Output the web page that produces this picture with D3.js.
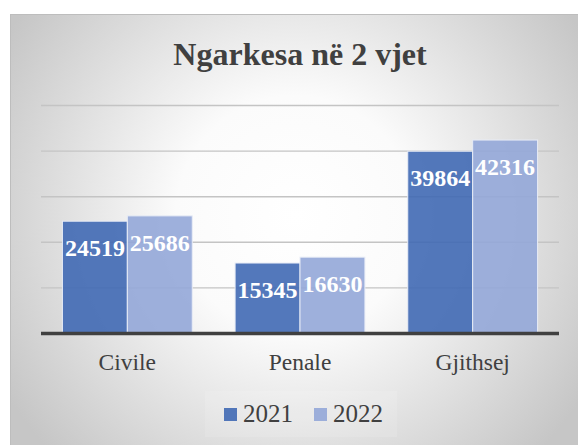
<!DOCTYPE html>
<html>
<head>
<meta charset="utf-8">
<script src="https://cdn.jsdelivr.net/npm/d3@7"></script>
<style>
  body { margin: 0; background: #fff; }
</style>
</head>
<body>
<svg id="content"></svg>
<script>
// chart data
const categories = ["Civile", "Penale", "Gjithsej"];
const years = ["2021", "2022"];
const values2021 = [24519, 15345, 39864];
const values2022 = [25686, 16630, 42316];
const gridTicks = [0, 10000, 20000, 30000, 40000, 50000];
const colors = ["#4069b4", "#94a7d8"];

const FONT = '"Liberation Serif"';
const W = 578, H = 445;
const margin = { top: 105, right: 19, bottom: 112, left: 41 };
const width = W - margin.left - margin.right,
      height = H - margin.top - margin.bottom;

const svg = d3.select("#content").attr("width", W).attr("height", H);

// background with radial gradient
const defs = svg.append("defs");
const grad = defs.append("radialGradient")
    .attr("id", "bg")
    .attr("gradientUnits", "userSpaceOnUse")
    .attr("cx", 295).attr("cy", 215).attr("r", 340);
grad.append("stop").attr("offset", "0%").attr("stop-color", "#ffffff");
grad.append("stop").attr("offset", "35%").attr("stop-color", "#fbfbfb");
grad.append("stop").attr("offset", "100%").attr("stop-color", "#c6c6c6");

svg.append("rect")
    .attr("x", 10.5).attr("y", 14.5)
    .attr("width", W).attr("height", H)
    .attr("fill", "url(#bg)")
    .attr("stroke", "#bdbdbd");

// title
svg.append("text")
    .attr("x", 300).attr("y", 65)
    .attr("text-anchor", "middle")
    .attr("font-size", 32).attr("font-weight", "bold")
    .style("font-family", FONT)
    .attr("fill", "#404040")
    .text("Ngarkesa në 2 vjet");

const g = svg.append("g")
    .attr("transform", `translate(${margin.left},${margin.top})`);

const y = d3.scaleLinear().domain([0, 50000]).range([height, 0]);
const x0 = d3.scaleBand().domain(categories).range([0, width]);
const x1 = d3.scaleBand().domain(years).range([0, x0.bandwidth()])
    .paddingInner(0).paddingOuter(0.33);

// gridlines
g.append("g")
    .call(d3.axisLeft(y).tickValues(gridTicks.slice(1)).tickSize(-width).tickFormat(""))
    .call(a => a.select(".domain").remove())
    .selectAll("line")
    .attr("stroke", "#c4c4c4")
    .attr("stroke-width", 1.4);

const rows = categories.map((c, i) => ({ cat: c, vals: [values2021[i], values2022[i]] }));

const groups = g.selectAll(".grp")
    .data(rows)
    .enter().append("g")
    .attr("transform", d => `translate(${x0(d.cat)},0)`);

const bars = groups.selectAll("g.bar")
    .data(d => d.vals.map((v, j) => ({ year: years[j], v: v, j: j })))
    .enter().append("g").attr("class", "bar");

bars.append("rect")
    .attr("x", d => x1(d.year))
    .attr("y", d => y(d.v))
    .attr("width", x1.bandwidth())
    .attr("height", d => height - y(d.v))
    .attr("fill", d => colors[d.j])
    .attr("fill-opacity", 0.9)
    .attr("stroke", "#e8ecf6")
    .attr("stroke-width", 1);

bars.append("text")
    .attr("x", d => x1(d.year) + x1.bandwidth() / 2)
    .attr("y", d => y(d.v) + 35)
    .attr("text-anchor", "middle")
    .attr("font-size", 24).attr("font-weight", "bold")
    .style("font-family", FONT)
    .attr("fill", "#ffffff")
    .text(d => d.v);

// category axis
g.append("line")
    .attr("x1", 0).attr("x2", width)
    .attr("y1", y(0) + 0.5).attr("y2", y(0) + 0.5)
    .attr("stroke", "#404040").attr("stroke-width", 3.5);

g.selectAll(".cat")
    .data(categories)
    .enter().append("text")
    .attr("x", d => x0(d) + x0.bandwidth() / 2)
    .attr("y", height + 37)
    .attr("text-anchor", "middle")
    .attr("font-size", 23.5)
    .style("font-family", FONT)
    .attr("fill", "#404040")
    .text(d => d);

// legend
svg.append("rect")
    .attr("x", 205).attr("y", 391).attr("width", 192).attr("height", 46)
    .attr("fill", "#ffffff").attr("fill-opacity", 0.12);

const legendX = [224, 314];
const legend = svg.selectAll(".leg")
    .data(years)
    .enter().append("g")
    .attr("transform", (d, i) => `translate(${legendX[i]},408)`);
legend.append("rect")
    .attr("width", 13).attr("height", 13)
    .attr("fill", (d, i) => colors[i]).attr("fill-opacity", 0.9);
legend.append("text")
    .attr("x", 19).attr("y", 14)
    .attr("font-size", 25)
    .style("font-family", FONT)
    .attr("fill", "#404040")
    .text(d => d);
</script>
</body>
</html>
